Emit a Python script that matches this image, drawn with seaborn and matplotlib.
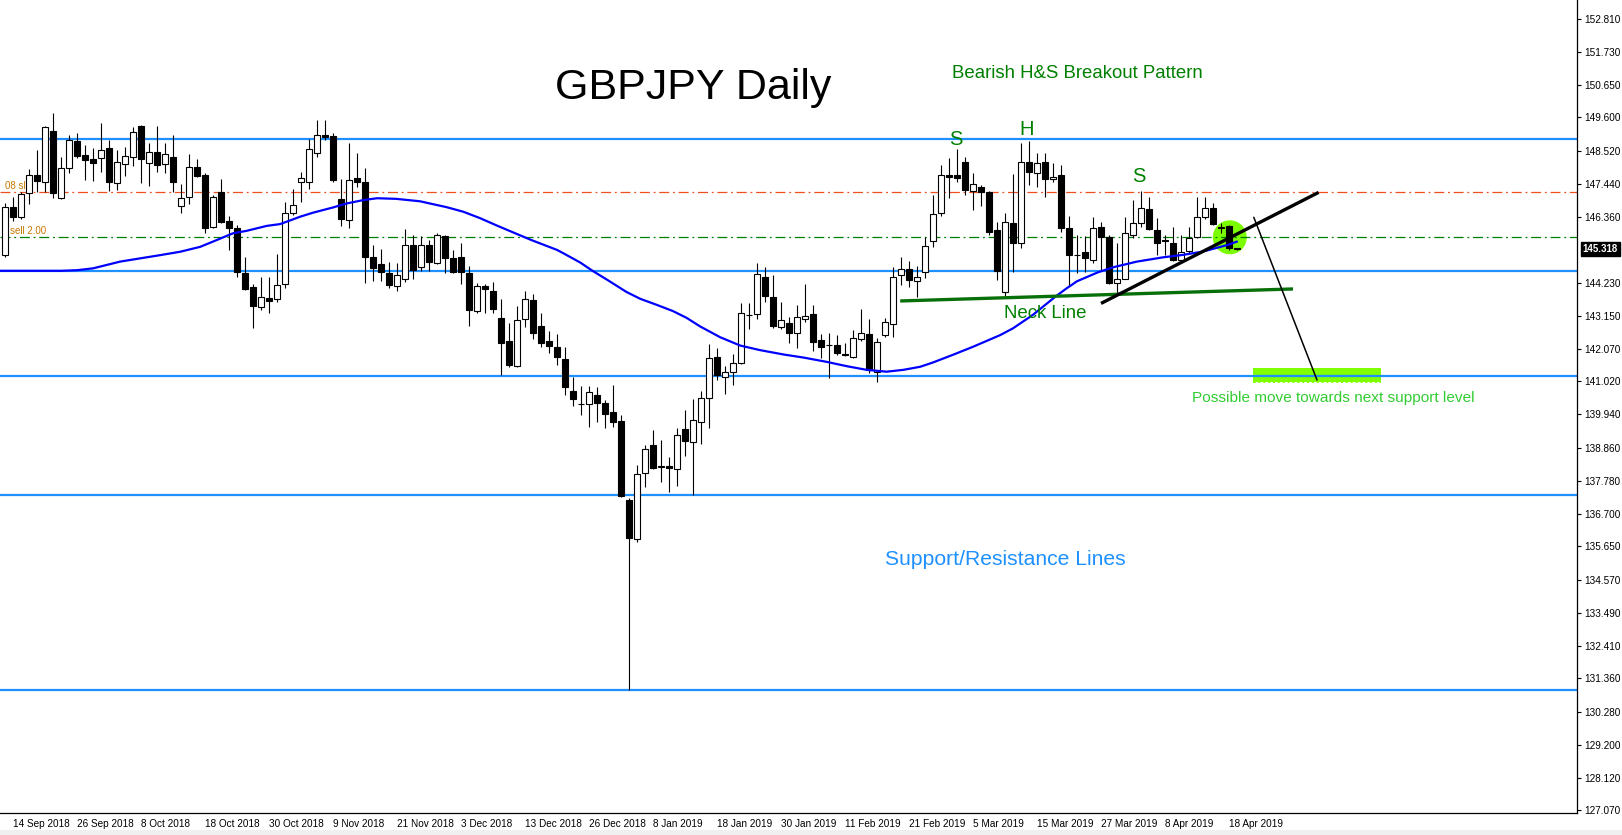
import numpy as np
import pandas as pd
import matplotlib
matplotlib.use("Agg")
import matplotlib.pyplot as plt
import matplotlib.transforms as mtransforms
from matplotlib.patches import Ellipse, Rectangle
import seaborn as sns

# ---------------- data ----------------
opens = [145.12, 146.67, 146.35, 147.13, 147.72, 147.51, 149.16, 146.99, 147.94, 148.84,
         148.38, 148.25, 148.27, 148.59, 147.45, 148.07, 148.30, 149.32, 148.10, 148.46,
         148.07, 148.30, 146.72, 147.00, 147.97, 147.72, 146.02, 147.16, 146.23, 145.99,
         144.55, 144.07, 143.42, 143.71, 143.70, 144.17, 146.48, 147.51, 147.51, 148.43,
         149.03, 148.99, 146.94, 146.26, 147.62, 147.51, 145.07, 144.83, 144.55, 144.12,
         144.35, 145.45, 144.74, 145.45, 144.87, 145.74, 145.02, 145.05, 144.55, 143.30,
         144.11, 143.95, 143.07, 142.33, 141.51, 143.03, 143.66, 142.81, 142.33, 142.14,
         141.74, 140.70, 140.27, 140.27, 140.57, 140.30, 140.01, 139.72, 137.16, 135.88,
         138.02, 138.94, 138.23, 138.26, 138.15, 139.46, 139.05, 139.70, 140.46, 141.82,
         141.17, 141.33, 141.60, 143.17, 143.20, 144.40, 143.75, 142.77, 142.90, 142.60,
         143.05, 143.20, 142.36, 142.19, 142.19, 141.92, 141.82, 142.38, 142.54, 141.33,
         142.51, 142.87, 144.47, 144.66, 144.28, 144.58, 145.58, 146.48, 147.71, 147.71,
         148.15, 147.19, 147.32, 147.18, 145.94, 143.93, 146.15, 145.50, 148.16, 147.78,
         148.16, 147.61, 147.71, 145.99, 145.12, 145.21, 144.96, 146.02, 145.70, 144.22,
         144.36, 145.77, 146.15, 146.61, 145.94, 145.61, 145.50, 144.96, 145.26, 145.70,
         146.35, 146.64, 146.04, 146.07, 145.34]
highs = [146.80, 147.02, 147.18, 147.91, 148.54, 149.32, 149.73, 148.30, 149.03, 149.08,
         148.70, 148.59, 149.43, 148.86, 148.54, 148.65, 149.30, 149.35, 148.76, 149.32,
         148.78, 149.03, 147.43, 148.40, 148.26, 147.80, 147.07, 147.58, 146.40, 146.10,
         145.05, 144.18, 144.40, 144.40, 145.16, 146.86, 147.26, 147.83, 148.89, 149.51,
         149.51, 149.08, 147.58, 148.76, 148.43, 147.94, 145.45, 145.31, 144.91, 144.88,
         145.96, 145.77, 145.74, 145.61, 145.83, 145.77, 145.29, 145.50, 144.77, 144.22,
         144.18, 144.26, 143.68, 142.92, 143.46, 143.95, 143.85, 143.25, 142.66, 142.54,
         142.12, 141.17, 140.86, 140.86, 140.84, 140.41, 140.90, 139.92, 137.21, 138.29,
         138.94, 139.43, 139.11, 138.57, 139.49, 140.08, 140.43, 140.70, 142.22, 142.09,
         141.51, 141.92, 143.55, 143.57, 144.85, 144.72, 144.47, 143.60, 143.12, 143.50,
         144.18, 143.50, 142.55, 142.60, 142.52, 142.25, 142.68, 143.36, 143.03, 142.41,
         143.06, 144.74, 145.07, 144.94, 144.77, 145.70, 147.07, 148.05, 148.27, 148.56,
         148.30, 147.78, 147.40, 147.20, 146.21, 146.50, 147.76, 148.75, 148.84, 148.43,
         148.43, 148.10, 148.05, 146.40, 145.76, 145.74, 146.35, 146.21, 145.77, 145.50,
         146.37, 146.91, 147.22, 147.00, 146.32, 145.77, 146.05, 145.77, 146.05, 147.00,
         147.00, 146.80, 146.15, 146.10, 145.36]
lows = [145.06, 146.24, 146.28, 146.78, 147.18, 147.18, 146.97, 146.93, 147.80, 148.27,
        147.56, 147.53, 147.83, 147.22, 147.24, 147.69, 148.02, 147.48, 147.37, 147.83,
        147.80, 147.18, 146.50, 146.78, 147.67, 145.83, 145.99, 146.18, 145.29, 144.42,
        143.99, 142.76, 143.34, 143.23, 143.61, 144.04, 146.42, 146.86, 147.26, 148.32,
        148.86, 147.51, 146.07, 145.99, 147.35, 144.22, 144.28, 144.28, 144.04, 143.96,
        144.26, 144.36, 144.61, 144.61, 144.83, 144.53, 144.55, 144.17, 142.81, 143.25,
        143.25, 143.23, 141.22, 141.49, 141.49, 142.77, 142.38, 142.14, 141.93, 141.55,
        140.57, 140.21, 139.92, 139.54, 139.70, 139.49, 139.52, 137.26, 130.98, 135.80,
        137.59, 138.15, 137.75, 137.43, 137.61, 138.59, 137.32, 138.98, 139.51, 141.06,
        140.60, 140.90, 141.58, 142.71, 143.03, 143.61, 142.74, 142.71, 142.25, 142.09,
        142.95, 142.01, 141.76, 141.11, 141.87, 141.84, 141.79, 142.34, 141.30, 141.00,
        142.47, 142.47, 144.15, 144.09, 143.77, 144.37, 145.40, 146.39, 146.97, 147.51,
        147.07, 146.59, 146.72, 145.77, 144.31, 143.77, 144.58, 145.34, 147.40, 147.35,
        147.00, 147.51, 145.88, 144.10, 144.54, 144.58, 144.85, 144.64, 144.18, 143.90,
        144.36, 145.67, 146.05, 145.94, 145.12, 145.12, 144.94, 144.91, 145.18, 145.67,
        146.28, 146.10, 145.83, 145.29, 145.30]
closes = [146.69, 146.37, 147.10, 147.71, 147.54, 149.28, 147.15, 147.94, 148.86, 148.35,
          148.21, 148.11, 148.54, 147.51, 148.14, 148.34, 149.11, 148.23, 148.46, 148.04,
          148.40, 147.51, 146.97, 147.97, 147.70, 146.01, 147.00, 146.21, 145.99, 144.58,
          144.03, 143.46, 143.75, 143.64, 144.14, 146.48, 146.75, 147.62, 148.56, 149.03,
          148.95, 147.56, 146.28, 147.56, 147.51, 145.07, 144.71, 144.58, 144.15, 144.46,
          145.45, 144.64, 145.45, 144.91, 145.77, 145.04, 144.58, 144.58, 143.34, 144.11,
          144.01, 143.37, 142.27, 141.55, 143.01, 143.68, 142.60, 142.27, 142.17, 141.82,
          140.84, 140.43, 140.28, 140.66, 140.30, 139.97, 139.70, 137.29, 135.93, 137.99,
          138.80, 138.19, 138.25, 138.21, 139.27, 139.09, 139.76, 140.49, 141.79, 141.22,
          141.33, 141.60, 143.23, 143.18, 144.51, 143.79, 142.81, 143.01, 142.60, 143.12,
          143.15, 142.30, 142.12, 142.20, 141.95, 141.88, 142.41, 142.58, 141.40, 142.28,
          142.94, 144.40, 144.66, 144.31, 144.40, 145.42, 146.45, 147.71, 147.67, 147.62,
          147.24, 147.43, 147.18, 145.88, 144.60, 146.19, 145.50, 148.16, 147.81, 148.10,
          147.59, 147.67, 145.99, 145.13, 145.14, 145.04, 145.99, 145.70, 144.20, 144.36,
          145.83, 146.15, 146.64, 145.96, 145.52, 145.59, 144.96, 145.23, 145.69, 146.35,
          146.66, 146.13, 145.99, 145.34, 145.318]

# moving average, read at sample points (bar index, price)
ma_bar = [-0.6, 7, 9, 11, 14.4, 19.4, 21.9, 24.4, 26, 28.5, 30.2, 32.7, 34.4, 36.9, 38.5, 41,
          42.7, 44.8, 46.5, 48.9, 51.9, 53.1, 55.2, 57.3, 59.4, 61.5, 63.6, 65.8, 67.5, 69,
          69.8, 71.9, 73.5, 75.2, 77.7, 79.4, 81.5, 83.5, 85.2, 86.9, 89.4, 91.9, 94.4, 97.3,
          99.8, 102.7, 105.2, 107.7, 110.2, 112.3, 114.4, 116, 118.5, 121, 124.4, 126, 128.5,
          131.3, 132.7, 134, 136.6, 138.6, 141.5, 144.8, 147.3, 149.8, 152.8, 154]
ma_val = [144.61, 144.61, 144.63, 144.69, 144.91, 145.12, 145.23, 145.39, 145.56, 145.83,
          145.91, 146.07, 146.13, 146.37, 146.50, 146.67, 146.80, 146.91, 146.97, 146.95,
          146.87, 146.80, 146.68, 146.53, 146.32, 146.08, 145.85, 145.61, 145.44, 145.29,
          145.18, 144.88, 144.60, 144.33, 143.92, 143.70, 143.50, 143.30, 143.08, 142.80,
          142.45, 142.18, 142.03, 141.89, 141.79, 141.65, 141.51, 141.39, 141.33, 141.39,
          141.49, 141.63, 141.88, 142.14, 142.52, 142.74, 143.18, 143.77, 144.04, 144.27,
          144.56, 144.73, 144.91, 145.05, 145.13, 145.24, 145.45, 145.56]

sr_levels = [148.91, 144.60, 141.20, 137.33, 130.97]
sl_level = 147.18
entry_level = 145.70
last_price = 145.318

date_labels = ["14 Sep 2018", "26 Sep 2018", "8 Oct 2018", "18 Oct 2018", "30 Oct 2018",
               "9 Nov 2018", "21 Nov 2018", "3 Dec 2018", "13 Dec 2018", "26 Dec 2018",
               "8 Jan 2019", "18 Jan 2019", "30 Jan 2019", "11 Feb 2019", "21 Feb 2019",
               "5 Mar 2019", "15 Mar 2019", "27 Mar 2019", "8 Apr 2019", "18 Apr 2019"]
price_ticks = [152.810, 151.730, 150.650, 149.600, 148.520, 147.440, 146.360, 144.230,
               143.150, 142.070, 141.020, 139.940, 138.860, 137.780, 136.700, 135.650,
               134.570, 133.490, 132.410, 131.360, 130.280, 129.200, 128.120, 127.070]

# pattern drawing points (bar index, price)
neck_x, neck_y = [111.9, 161.0], [143.63, 144.02]
trend_x, trend_y = [137.0, 164.2], [143.55, 147.16]
move_x, move_y = [156.1, 164.0], [146.35, 141.06]

# ---------------- figure ----------------
sns.set_theme(style="white")
plt.rcParams['font.family'] = ['Liberation Sans', 'DejaVu Sans']

df = pd.DataFrame({"open": opens, "high": highs, "low": lows, "close": closes})
df["bar"] = np.arange(len(df))
ma_df = pd.DataFrame({"bar": ma_bar, "ma": ma_val})

fig = plt.figure(figsize=(16.22, 8.35), dpi=100)
fig.patch.set_facecolor("white")
ax = fig.add_axes([0, 22 / 835, 1577 / 1622, 813 / 835])
ax.set_facecolor("white")
ax.set_xlim(-0.625, 196.5)
ax.set_ylim(126.98, 153.416)

# bottom grey strip
fig.patches.append(Rectangle((0, 0), 1, 5 / 835, transform=fig.transFigure,
                             facecolor="#F0F0F0", edgecolor="none", zorder=-5))

# horizontal support/resistance lines
for lv in sr_levels:
    ax.axhline(lv, color="#1E90FF", lw=1.6, zorder=1.5)
ax.axhline(sl_level, color="#F05020", lw=0.9, zorder=1.5, linestyle=(0, (8, 3, 1.5, 3)))
ax.axhline(entry_level, color="#008000", lw=0.9, zorder=1.5, linestyle=(0, (8, 3, 1.5, 3)))
ax.text(0.0, sl_level + 0.04, "08 sl", fontsize=7, color="#C87800", ha="left", va="bottom", zorder=6)
ax.text(0.65, entry_level + 0.04, "sell 2.00", fontsize=7, color="#C87800", ha="left", va="bottom", zorder=6)

# target rectangle
ax.add_patch(Rectangle((156.0, 140.95), 16.0, 0.51, facecolor="#80FF00", edgecolor="none", zorder=1.2))
ax.plot([156.3, 171.7], [141.0, 141.0], color="white", lw=0.7, linestyle=(0, (3, 2)), zorder=1.3)

# green circle
ax.add_patch(Ellipse((153.1, 145.70), 4.25, 1.106, facecolor="#7CFC00", edgecolor="none", zorder=1.4))

# candles
x = df["bar"].values
o = df["open"].values; c = df["close"].values
bottom = np.minimum(o, c)
height = np.maximum(np.abs(c - o), 0.015)
cols = np.where(c >= o, "white", "black")
ax.vlines(x, df["low"], df["high"], color="black", lw=0.8, zorder=2.9)
ax.bar(x, height, bottom=bottom, width=0.64, color=cols, edgecolor="black", linewidth=0.8, zorder=3)

# moving average
sns.lineplot(data=ma_df, x="bar", y="ma", color="#0000FF", lw=1.6, ax=ax, sort=False,
             estimator=None, zorder=4)

# pattern lines
ax.plot(neck_x, neck_y, color="#087008", lw=2.4, zorder=4.5, solid_capstyle="butt")
ax.plot(trend_x, trend_y, color="black", lw=2.4, zorder=4.6, solid_capstyle="butt")
ax.plot(move_x, move_y, color="black", lw=1.1, zorder=4.6)

# texts
ax.text(86.0, 150.196, "GBPJPY Daily", fontsize=31, color="black", ha="center", va="baseline", zorder=6)
ax.text(134.0, 150.89, "Bearish H&S Breakout Pattern", fontsize=13.4, color="#008000",
        ha="center", va="baseline", zorder=6)
ax.text(118.9, 148.70, "S", fontsize=14.5, color="#008000", ha="center", va="baseline", zorder=6)
ax.text(127.75, 149.04, "H", fontsize=14.5, color="#008000", ha="center", va="baseline", zorder=6)
ax.text(141.75, 147.50, "S", fontsize=14.5, color="#008000", ha="center", va="baseline", zorder=6)
ax.text(130.0, 143.09, "Neck Line", fontsize=13.4, color="#008000", ha="center", va="baseline", zorder=6)
ax.text(125.06, 135.04, "Support/Resistance Lines", fontsize=15.2, color="#1E90FF",
        ha="center", va="baseline", zorder=6)
ax.text(166.1, 140.36, "Possible move towards next support level", fontsize=11.1, color="#32CD32",
        ha="center", va="baseline", zorder=6)

# axes styling
for s in ["left", "top"]:
    ax.spines[s].set_visible(False)
for s in ["right", "bottom"]:
    ax.spines[s].set_visible(True)
    ax.spines[s].set_color("black")
    ax.spines[s].set_linewidth(0.9)
ax.yaxis.tick_right()
ax.set_yticks(price_ticks)
ax.set_yticklabels([f"{v:.3f}" for v in price_ticks])
ax.set_xticks([1 + 8 * k for k in range(len(date_labels))])
ax.set_xticklabels(date_labels)
for lab in ax.get_xticklabels():
    lab.set_horizontalalignment("left")
ax.tick_params(axis="y", which="major", direction="out", length=3, width=0.8, color="black",
               labelsize=7.2, pad=2.5, labelcolor="black")
ax.tick_params(axis="x", which="major", direction="out", length=3, width=0.8, color="black",
               labelsize=7.2, pad=1.2, labelcolor="black")
ax.set_xlabel("")
ax.set_ylabel("")
ax.grid(False)

# current price tag
trans = mtransforms.blended_transform_factory(ax.transAxes, ax.transData)
ax.text(1.0035, last_price, f"{last_price:.3f}", transform=trans, fontsize=7, color="white",
        fontweight="bold", ha="left", va="center", clip_on=False, zorder=7,
        bbox=dict(facecolor="black", edgecolor="black", boxstyle="square,pad=0.2"))

fig.savefig("out.png", dpi=100)
